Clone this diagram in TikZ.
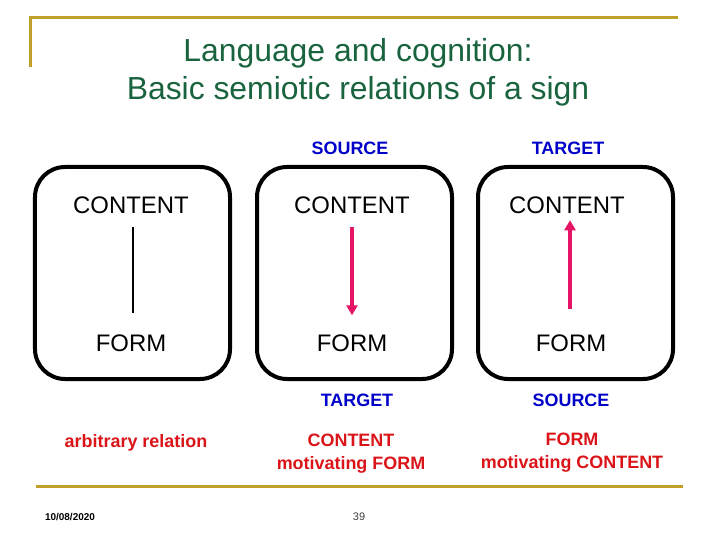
\documentclass[tikz,border=0pt]{standalone}
\usepackage{fontspec}
\setmainfont{Liberation Sans}
\usetikzlibrary{arrows.meta}
\definecolor{slidegold}{RGB}{193,160,42}
\definecolor{titlegreen}{RGB}{25,100,62}
\definecolor{roleblue}{RGB}{0,0,200}
\definecolor{motivred}{RGB}{218,20,24}
\definecolor{arrowpink}{RGB}{230,20,100}
\tikzset{
  goldrule/.style={slidegold,line width=3bp},
  titletext/.style={titlegreen,font=\fontsize{32}{38}\selectfont,anchor=base},
  signbox/.style={draw,line width=4bp,rounded corners=30bp,minimum width=195bp,minimum height=212bp},
  boxlabel/.style={font=\fontsize{24}{28}\selectfont,anchor=base},
  rolelabel/.style={roleblue,font=\bfseries\fontsize{18}{22}\selectfont,anchor=base},
  motivlabel/.style={motivred,font=\bfseries\fontsize{18}{23}\selectfont,align=center},
  linkline/.style={line width=2.8bp},
  motivarrow/.style={arrowpink,line width=4bp,-{Triangle[width=11bp,length=10bp]}}
}
\begin{document}
\begin{tikzpicture}[x=1bp,y=-1bp]
\useasboundingbox (0,0) rectangle (720,540);
\draw[goldrule] (30,67) -- (30,18) -- (678,18);
\draw[goldrule] (36,486) -- (683,486);
\node[titletext] (title1) at (358,62) {Language and cognition:};
\node[titletext] (title2) at (358,100) {Basic semiotic relations of a sign};
% the three signs
\node[signbox] (box1) at (132.5,273) {};
\node[signbox] (box2) at (354.5,273) {};
\node[signbox] (box3) at (575.5,273) {};
\node[boxlabel] (c1) at (131,213.5) {CONTENT};
\node[boxlabel] (f1) at (131,351.5) {FORM};
\node[boxlabel] (c2) at (352,213.5) {CONTENT};
\node[boxlabel] (f2) at (352,351.5) {FORM};
\node[boxlabel] (c3) at (567,213.5) {CONTENT};
\node[boxlabel] (f3) at (571,351.5) {FORM};
\draw[linkline,shorten <=10bp,shorten >=18bp] ([xshift=2bp]c1.south) -- ([xshift=2bp]f1.north);
\draw[motivarrow,shorten <=10bp,shorten >=16bp] (c2.south) -- (f2.north);
\draw[motivarrow,shorten <=22bp,shorten >=3bp] ([xshift=-1bp]f3.north) -- ([xshift=-1bp]f3.north |- c3.south);
% roles
\node[rolelabel] (src2) at (350,154.5) {SOURCE};
\node[rolelabel] (tgt3) at (568,154.5) {TARGET};
\node[rolelabel] (tgt2) at (357,406.5) {TARGET};
\node[rolelabel] (src3) at (571,406.5) {SOURCE};
\node[motivred,font=\bfseries\fontsize{18}{22}\selectfont,anchor=base] (arb) at (136,447) {arbitrary relation};
\node[motivlabel] (mot2) at (351,453.5) {CONTENT\\motivating FORM};
\node[motivlabel] (mot3) at (572,453) {FORM\\motivating CONTENT};
% footer
\node[font=\bfseries\fontsize{10}{12}\selectfont] (date) at (70,517) {10/08/2020};
\node[black!75,font=\fontsize{11}{13}\selectfont] (page) at (359,517) {39};
\end{tikzpicture}
\end{document}
